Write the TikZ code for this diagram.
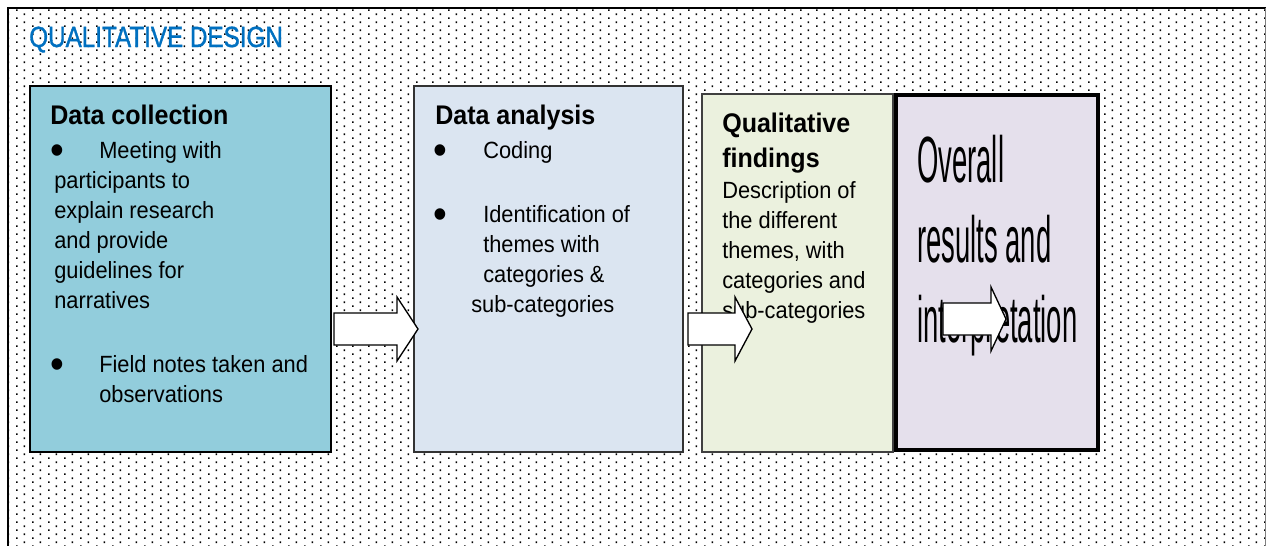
\documentclass[tikz,border=0pt]{standalone}
\usepackage{fontspec}
\setmainfont{Liberation Sans}[FakeStretch=0.93]
\newfontfamily\tallfont{Liberation Sans}[FakeStretch=0.42]
\newfontfamily\titlefont{Liberation Sans}[FakeStretch=0.83, FakeBold=1.2]
\newcommand{\bigbul}{\raisebox{-5pt}{\scalebox{1.8}{\textbullet}}}
\usetikzlibrary{positioning,patterns}
\definecolor{titleblue}{HTML}{0070C0}
\definecolor{collfill}{HTML}{92CDDC}
\definecolor{analfill}{HTML}{DBE5F1}
\definecolor{findfill}{HTML}{EBF1DE}
\definecolor{overfill}{HTML}{E5E0EC}
\pgfdeclarepatternformonly{stagdots}{\pgfpointorigin}{\pgfqpoint{12pt}{6.3pt}}{\pgfqpoint{12pt}{6.3pt}}{%
  \pgfpathrectangle{\pgfqpoint{0pt}{0pt}}{\pgfqpoint{1.35pt}{1.35pt}}%
  \pgfpathrectangle{\pgfqpoint{6pt}{3.15pt}}{\pgfqpoint{1.35pt}{1.35pt}}%
  \pgfusepath{fill}}
\tikzset{>=latex}

\begin{document}
\begin{tikzpicture}[x=0.75pt, y=-0.75pt,
	box/.style={rectangle, draw=black, inner sep=0pt, outer sep=0pt, anchor=north west},
	head/.style={anchor=base west, inner sep=0pt, font=\fontsize{20.2}{26.25}\selectfont\bfseries},
	body/.style={anchor=base west, inner sep=0pt, font=\fontsize{17.6}{22.5}\selectfont},
	blockarrow/.style={draw=black, fill=white, line width=1pt, line join=miter}]
		\useasboundingbox (0,0) rectangle (1267,546);
		% dotted page frame
		\fill[pattern=stagdots] (9,9) rectangle (1265,546);
		\draw[line width=1.5pt] (8,546) -- (8,8) -- (1266,8);
		\draw[gray, line width=0.6pt] (1265.5,8) -- (1265.5,546);
		\node[anchor=base west, inner sep=0pt, text=titleblue, font=\titlefont\fontsize{21.9}{26}\selectfont] (title) at (29,47) {QUALITATIVE DESIGN};

		% the four stages
		\node[box, fill=collfill, line width=1.5pt, minimum width=225.75pt, minimum height=274.5pt] (coll) at (30,86) {};
		\node[box, fill=analfill, draw=black!80, line width=1.5pt, minimum width=201.75pt, minimum height=274.5pt, right=62.25pt of coll.north east, anchor=north west] (anal) {};
		\node[box, fill=findfill, draw=black!75, line width=1.2pt, minimum width=143.25pt, minimum height=268.5pt, below right=6pt and 14.25pt of anal.north east, anchor=north west] (find) {};
		\node[box, fill=overfill, line width=2.6pt, minimum width=151.5pt, minimum height=266.25pt, below right=0.75pt and 2.25pt of find.north east, anchor=north west] (over) {};

		\node[head] (collhead) at (50,124) {Data collection};
		\node[body] (colltext) at (54,158) {\begin{tabular}[t]{@{}l@{}}
			\makebox[33.75pt][l]{\hspace*{-3pt}\bigbul}Meeting with\\
			participants to\\
			explain research\\
			and provide\\
			guidelines for\\
			narratives\\[25.5pt]
			\makebox[33.75pt][l]{\hspace*{-3pt}\bigbul}Field notes taken and\\
			\hspace*{33.75pt}observations
		\end{tabular}};

		\node[head] (analhead) at (435,124) {Data analysis};
		\node[body] (analtext) at (436,158) {\begin{tabular}[t]{@{}l@{}}
			\makebox[35.25pt][l]{\hspace*{-2pt}\bigbul}Coding\\[25.5pt]
			\makebox[35.25pt][l]{\hspace*{-2pt}\bigbul}Identification of\\
			\hspace*{35.25pt}themes with\\
			\hspace*{35.25pt}categories \&\\
			\hspace*{26.25pt}sub-categories
		\end{tabular}};

		\node[head] (findhead) at (722,132) {\begin{tabular}[t]{@{}l@{}}Qualitative\\ findings\end{tabular}};
		\node[body] (findtext) at (722,198) {\begin{tabular}[t]{@{}l@{}}
			Description of\\
			the different\\
			themes, with\\
			categories and\\
			sub-categories
		\end{tabular}};

		\node[anchor=base west, inner sep=0pt, font=\tallfont\fontsize{49}{60}\selectfont] (overtext) at (917,182) {\begin{tabular}[t]{@{}l@{}}Overall\\ results and\\ interpretation\end{tabular}};

		% block arrows between the stages
		\coordinate (a1) at ([xshift=2.25pt]coll.east |- 0,329);
		\coordinate (a2) at ([xshift=3.75pt]anal.east |- 0,329);
		\coordinate (a3) at (943,319);
		\draw[blockarrow] (a1) ++(0,-16) -- ++(63,0) -- ++(0,-16) -- ++(21,32) -- ++(-21,32) -- ++(0,-16) -- ++(-63,0) -- cycle;
		\draw[blockarrow] (a2) ++(0,-16) -- ++(47,0) -- ++(0,-16) -- ++(17,32) -- ++(-17,32) -- ++(0,-16) -- ++(-47,0) -- cycle;
		\draw[blockarrow] (a3) ++(0,-16) -- ++(48,0) -- ++(0,-16) -- ++(15,32) -- ++(-15,32) -- ++(0,-16) -- ++(-48,0) -- cycle;
\end{tikzpicture}
\end{document}
